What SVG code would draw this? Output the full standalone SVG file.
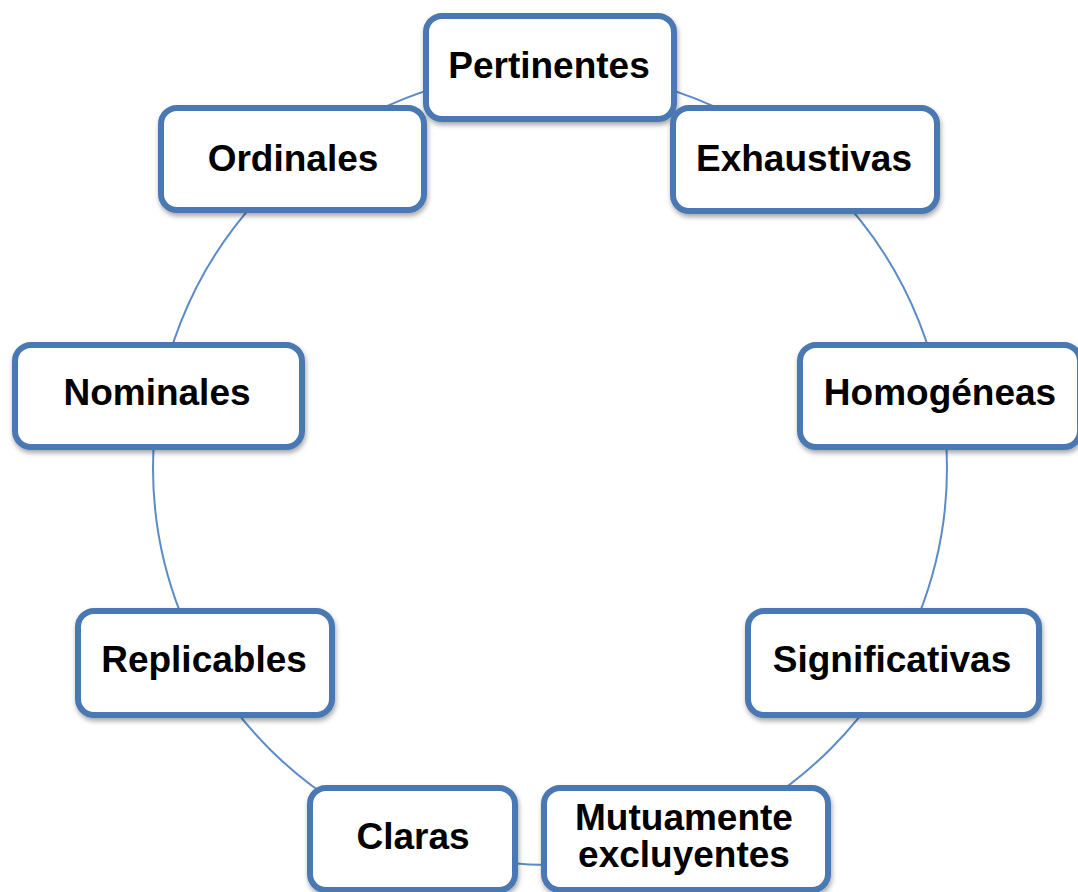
<svg xmlns="http://www.w3.org/2000/svg" width="1078" height="892" viewBox="0 0 1078 892">
<defs>
<filter id="sh" x="-10%" y="-10%" width="120%" height="130%">
<feDropShadow dx="1" dy="3" stdDeviation="2.5" flood-color="#000" flood-opacity="0.35"/>
</filter>
</defs>
<style>
.box{fill:#ffffff;stroke:#4A78B3;stroke-width:6;filter:url(#sh)}
.lbl{font-family:"Liberation Sans",Arial,sans-serif;font-weight:bold;font-size:37px;fill:#000;text-anchor:middle}
.ring{fill:none;stroke:#5B8BC8;stroke-width:2}
</style>
<rect width="1078" height="892" fill="#ffffff"/>
<g id="connectors">
<circle class="ring" cx="550" cy="468" r="397"/>
</g>
<g id="n-pertinentes">
<rect class="box" x="426" y="16" width="248" height="103" rx="16"/>
<text class="lbl" x="549" y="78">Pertinentes</text>
</g>
<g id="n-ordinales">
<rect class="box" x="161" y="108" width="263" height="102" rx="16"/>
<text class="lbl" x="293" y="171">Ordinales</text>
</g>
<g id="n-exhaustivas">
<rect class="box" x="673" y="108" width="264" height="103" rx="16"/>
<text class="lbl" x="804" y="171">Exhaustivas</text>
</g>
<g id="n-nominales">
<rect class="box" x="15" y="345" width="287" height="102" rx="16"/>
<text class="lbl" x="157" y="405">Nominales</text>
</g>
<g id="n-homogeneas">
<rect class="box" x="800" y="345" width="280" height="102" rx="16"/>
<text class="lbl" x="940" y="405">Homogéneas</text>
</g>
<g id="n-replicables">
<rect class="box" x="78" y="611" width="254" height="104" rx="16"/>
<text class="lbl" x="204" y="672">Replicables</text>
</g>
<g id="n-significativas">
<rect class="box" x="748" y="611" width="291" height="104" rx="16"/>
<text class="lbl" x="892" y="672">Significativas</text>
</g>
<g id="n-claras">
<rect class="box" x="310" y="788" width="205" height="102" rx="16"/>
<text class="lbl" x="413" y="849">Claras</text>
</g>
<g id="n-mutuamente">
<rect class="box" x="544" y="788" width="284" height="102" rx="16"/>
<text class="lbl" x="684" y="830">Mutuamente</text>
<text class="lbl" x="684" y="867">excluyentes</text>
</g>
</svg>
